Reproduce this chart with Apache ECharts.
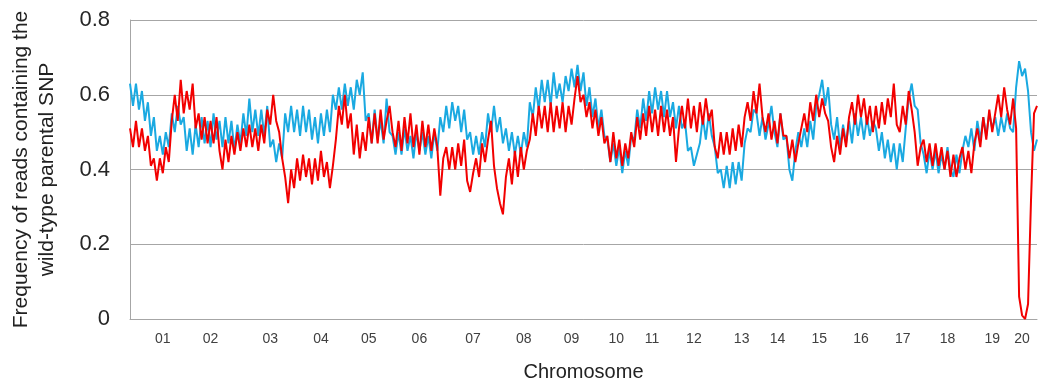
<!DOCTYPE html>
<html>
<head>
<meta charset="utf-8">
<script src="https://cdn.jsdelivr.net/npm/echarts@6/dist/echarts.min.js"></script>
<style>
html,body{margin:0;padding:0;background:#fff;}
#chart{width:1040px;height:387px;}
</style>
</head>
<body>
<div id="chart"></div>
<script>
// Chromosome labels and the sample index (position along genome) where each label sits
const chromosomes = ['01','02','03','04','05','06','07','08','09','10','11','12','13','14','15','16','17','18','19','20'];
const chromLabelIndex = [11,27,47,64,80,97,115,132,148,163,175,189,205,217,231,245,259,274,289,299];

// Frequency of reads containing the wild-type parental SNP (blue series)
const blueSeries = [
0.63,0.57,0.63,0.56,0.61,0.53,0.58,0.49,0.54,0.45,
0.49,0.44,0.50,0.46,0.55,0.50,0.57,0.52,0.54,0.45,
0.51,0.44,0.52,0.46,0.54,0.47,0.53,0.46,0.55,0.48,
0.53,0.46,0.54,0.47,0.53,0.45,0.52,0.47,0.55,0.49,
0.59,0.50,0.56,0.49,0.56,0.49,0.57,0.46,0.48,0.42,
0.47,0.43,0.55,0.50,0.57,0.50,0.56,0.49,0.57,0.50,
0.56,0.48,0.54,0.47,0.55,0.49,0.56,0.50,0.60,0.56,
0.62,0.56,0.63,0.57,0.62,0.56,0.64,0.60,0.66,0.53,
0.55,0.47,0.56,0.48,0.53,0.47,0.59,0.50,0.49,0.44,
0.50,0.44,0.51,0.45,0.49,0.43,0.50,0.45,0.50,0.44,
0.49,0.43,0.50,0.45,0.54,0.50,0.57,0.51,0.58,0.53,
0.57,0.50,0.56,0.48,0.50,0.44,0.49,0.44,0.50,0.46,
0.55,0.50,0.57,0.50,0.54,0.47,0.51,0.45,0.50,0.44,
0.49,0.44,0.50,0.46,0.58,0.54,0.62,0.56,0.64,0.58,
0.64,0.57,0.66,0.59,0.63,0.58,0.65,0.61,0.67,0.62,
0.68,0.61,0.66,0.57,0.62,0.54,0.59,0.51,0.56,0.49,
0.48,0.42,0.47,0.41,0.46,0.39,0.45,0.41,0.49,0.48,
0.56,0.51,0.59,0.53,0.61,0.55,0.62,0.56,0.61,0.54,
0.61,0.54,0.58,0.51,0.57,0.51,0.53,0.45,0.46,0.41,
0.44,0.47,0.54,0.48,0.55,0.49,0.46,0.39,0.40,0.35,
0.41,0.35,0.42,0.36,0.42,0.37,0.47,0.51,0.50,0.56,
0.55,0.49,0.54,0.48,0.52,0.57,0.50,0.46,0.55,0.48,
0.49,0.40,0.37,0.45,0.50,0.46,0.51,0.46,0.53,0.48,
0.57,0.60,0.64,0.57,0.62,0.52,0.48,0.54,0.46,0.52,
0.47,0.53,0.47,0.55,0.49,0.54,0.48,0.54,0.49,0.53,
0.51,0.45,0.50,0.43,0.48,0.42,0.47,0.40,0.47,0.42,
0.51,0.59,0.63,0.57,0.56,0.47,0.44,0.39,0.45,0.40,
0.45,0.39,0.44,0.40,0.46,0.40,0.38,0.44,0.39,0.45,
0.49,0.46,0.51,0.45,0.53,0.48,0.54,0.49,0.55,0.51,
0.54,0.49,0.54,0.50,0.55,0.51,0.50,0.62,0.69,0.65,
0.67,0.61,0.50,0.45,0.48
];

// Red series
const redSeries = [
0.51,0.46,0.53,0.46,0.51,0.45,0.49,0.41,0.43,0.37,
0.43,0.39,0.46,0.42,0.53,0.60,0.53,0.64,0.55,0.61,
0.56,0.63,0.51,0.55,0.48,0.54,0.47,0.53,0.47,0.54,
0.45,0.40,0.48,0.42,0.49,0.44,0.50,0.45,0.51,0.46,
0.52,0.46,0.51,0.45,0.52,0.47,0.56,0.52,0.60,0.53,
0.50,0.43,0.38,0.31,0.40,0.35,0.43,0.37,0.44,0.38,
0.43,0.36,0.43,0.37,0.45,0.38,0.42,0.35,0.41,0.48,
0.57,0.52,0.60,0.51,0.55,0.44,0.52,0.43,0.50,0.45,
0.54,0.47,0.55,0.47,0.56,0.48,0.53,0.57,0.50,0.46,
0.53,0.45,0.54,0.47,0.55,0.46,0.52,0.44,0.53,0.46,
0.52,0.45,0.51,0.46,0.33,0.43,0.46,0.40,0.46,0.40,
0.47,0.41,0.48,0.37,0.34,0.39,0.43,0.38,0.47,0.42,
0.48,0.53,0.41,0.35,0.31,0.28,0.38,0.43,0.36,0.45,
0.38,0.46,0.40,0.45,0.48,0.55,0.49,0.57,0.51,0.57,
0.50,0.58,0.50,0.57,0.51,0.58,0.50,0.57,0.52,0.59,
0.65,0.58,0.60,0.54,0.58,0.51,0.56,0.49,0.54,0.47,
0.49,0.42,0.50,0.43,0.48,0.41,0.47,0.43,0.50,0.46,
0.54,0.48,0.55,0.49,0.57,0.50,0.56,0.49,0.57,0.50,
0.56,0.49,0.54,0.42,0.51,0.57,0.51,0.59,0.51,0.57,
0.50,0.58,0.52,0.59,0.53,0.56,0.46,0.43,0.50,0.44,
0.50,0.44,0.51,0.45,0.52,0.46,0.54,0.58,0.53,0.61,
0.55,0.63,0.54,0.50,0.55,0.48,0.53,0.47,0.55,0.49,
0.49,0.43,0.48,0.42,0.47,0.51,0.55,0.50,0.58,0.53,
0.60,0.54,0.59,0.55,0.53,0.46,0.42,0.49,0.44,0.51,
0.46,0.54,0.58,0.52,0.60,0.54,0.59,0.52,0.57,0.50,
0.57,0.51,0.58,0.52,0.59,0.54,0.63,0.52,0.50,0.57,
0.52,0.61,0.56,0.50,0.41,0.46,0.48,0.42,0.47,0.41,
0.47,0.41,0.46,0.40,0.45,0.38,0.44,0.38,0.43,0.46,
0.40,0.45,0.39,0.47,0.51,0.46,0.54,0.48,0.56,0.50,
0.55,0.60,0.54,0.62,0.56,0.52,0.59,0.51,0.06,0.01,
0.00,0.04,0.32,0.55,0.57
];

const yTicks = [0, 0.2, 0.4, 0.6, 0.8];

const labelAt = {};
chromLabelIndex.forEach((idx, k) => { labelAt[idx] = chromosomes[k]; });
const xCats = blueSeries.map((_, i) => labelAt[i] || '');

const chart = echarts.init(document.getElementById('chart'), null, {renderer: 'canvas'});
chart.setOption({
  animation: false,
  backgroundColor: '#ffffff',
  grid: {left: 128, right: 0, top: 20, bottom: 61, containLabel: false},
  xAxis: {
    type: 'category',
    data: xCats,
    boundaryGap: false,
    axisLine: {show: true, lineStyle: {color: '#A6A6A6', width: 1}},
    axisTick: {show: false},
    splitLine: {show: false},
    axisLabel: {interval: 0, color: '#404040', fontSize: 14, margin: 13, fontFamily: 'Liberation Sans, Arial, sans-serif'},
    name: 'Chromosome',
    nameLocation: 'middle',
    nameGap: 43,
    nameTextStyle: {color: '#222', fontSize: 20, fontFamily: 'Liberation Sans, Arial, sans-serif'}
  },
  yAxis: {
    type: 'value',
    min: yTicks[0],
    max: yTicks[yTicks.length - 1],
    interval: 0.2,
    axisLine: {show: true, lineStyle: {color: '#A6A6A6', width: 1}},
    axisTick: {show: false},
    splitLine: {show: true, lineStyle: {color: '#A6A6A6', width: 1}},
    axisLabel: {
      color: '#262626', fontSize: 22, margin: 20,
      fontFamily: 'Liberation Sans, Arial, sans-serif',
      formatter: v => (v === 0 ? '0' : v.toFixed(1))
    },
    name: 'Frequency of reads containing the\nwild-type parental SNP',
    nameLocation: 'middle',
    nameGap: 70,
    nameTextStyle: {color: '#222', fontSize: 21, lineHeight: 26, fontFamily: 'Liberation Sans, Arial, sans-serif'}
  },
  series: [
    {
      type: 'line', data: blueSeries, showSymbol: false, sampling: null,
      lineStyle: {color: '#1AA9E1', width: 2}, itemStyle: {color: '#1AA9E1'}, z: 2
    },
    {
      type: 'line', data: redSeries, showSymbol: false, sampling: null,
      lineStyle: {color: '#F20000', width: 2}, itemStyle: {color: '#F20000'}, z: 3
    }
  ]
});
</script>
</body>
</html>
